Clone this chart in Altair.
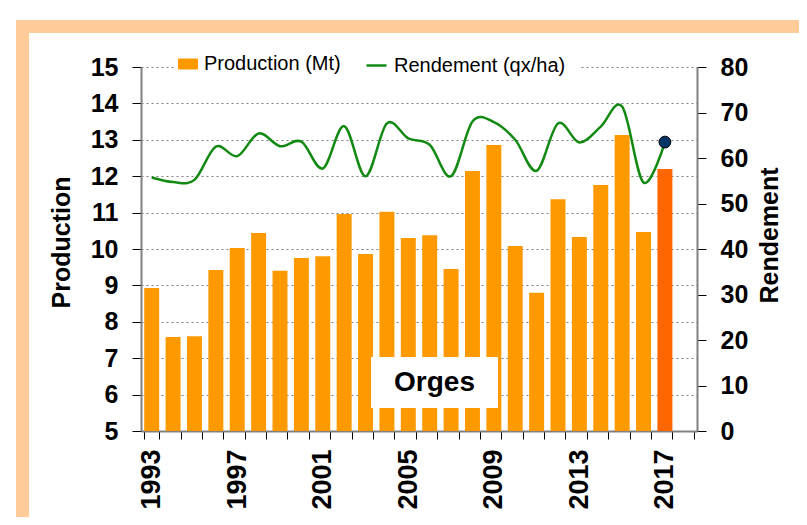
import altair as alt
import pandas as pd

# ---- data ----
annees = list(range(1993, 2018))
production = [8.93, 7.58, 7.60, 9.42, 10.03, 10.44, 9.40, 9.75, 9.80, 10.96,
              9.86, 11.02, 10.30, 10.38, 9.45, 12.14, 12.86, 10.08, 8.80, 11.37,
              10.33, 11.76, 13.13, 10.47, 12.20]
rendement = [55.7, 54.7, 55.2, 62.5, 60.4, 65.4, 62.6, 63.6, 57.7, 67.0,
             56.0, 67.6, 64.3, 62.9, 56.0, 68.0, 67.9, 64.0, 57.2, 67.6,
             63.4, 66.9, 71.3, 54.6, 63.5]
axe_annees = list(range(1993, 2019))
ticks_prod = list(range(5, 16))
ticks_rend = list(range(0, 90, 10))
base_prod = 5
serie_prod = "Production (Mt)"
serie_rend = "Rendement (qx/ha)"

df = pd.DataFrame({
    "Annee": annees,
    "Production": production,
    "Rendement": rendement,
    "SerieP": serie_prod,
    "SerieR": serie_rend,
})
deco = pd.DataFrame({"k": [0]})

FONT = "Liberation Sans"
ORANGE = "#FF9900"
ORANGE_DARK = "#FF6600"
GREEN = "#128A12"
FRAME = "#FFCC99"

x_enc = alt.X(
    "Annee:O",
    scale=alt.Scale(domain=axe_annees, paddingInner=0.3, paddingOuter=0.15),
    axis=alt.Axis(
        title=None, labelAngle=270, tickBand="extent",
        labelExpr="(datum.value - 1993) % 4 == 0 ? datum.label : ''",
        labelFontSize=27, labelFont=FONT, labelFontWeight="bold", labelColor="black",
        labelPadding=10, tickColor="black", tickSize=8, tickWidth=1,
        domainColor="#808080", domainWidth=2, grid=False,
    ),
)

frame_left = alt.Chart(deco).mark_rect(color=FRAME).encode(
    x=alt.value(-125), x2=alt.value(-112), y=alt.value(-47), y2=alt.value(470))
frame_top = alt.Chart(deco).mark_rect(color=FRAME).encode(
    x=alt.value(-125), x2=alt.value(680), y=alt.value(-47), y2=alt.value(-34))
legend_bg = alt.Chart(deco).mark_rect(color="white").encode(
    x=alt.value(33), x2=alt.value(440), y=alt.value(-9), y2=alt.value(6))

bars = alt.Chart(df).mark_bar().encode(
    x=x_enc,
    y=alt.Y(
        "Production:Q",
        scale=alt.Scale(domain=[5, 15], nice=False, zero=False),
        axis=alt.Axis(
            orient="left", values=ticks_prod, title="Production",
            grid=True, gridDash=[2, 3], gridColor="#7F7F7F", gridWidth=1,
            labelFontSize=25, labelFont=FONT, labelFontWeight="bold", labelColor="black",
            labelPadding=14, tickColor="black", tickSize=9, tickWidth=1,
            domainColor="#808080", domainWidth=2,
            titleFontSize=25, titleFont=FONT, titleFontWeight="bold", titleColor="black",
            titlePadding=16, titleY=175,
        ),
    ),
    y2=alt.datum(base_prod),
    fill=alt.condition(
        alt.datum.Annee == 2017,
        alt.value(ORANGE_DARK),
        alt.Fill(
            "SerieP:N",
            scale=alt.Scale(domain=[serie_prod], range=[ORANGE]),
            legend=alt.Legend(
                title=None, orient="none", legendX=34, legendY=-16,
                symbolType="M-1,-0.55L1,-0.55L1,0.55L-1,0.55Z", symbolSize=400,
                symbolStrokeWidth=0, labelFontSize=20, labelFont=FONT,
                labelColor="black", labelOffset=6, padding=3, fillColor="white",
                labelLimit=300,
            ),
        ),
    ),
)

line = alt.Chart(df).mark_line(interpolate="cardinal", strokeWidth=2.5).encode(
    x=x_enc,
    y=alt.Y(
        "Rendement:Q",
        scale=alt.Scale(domain=[0, 80], nice=False),
        axis=alt.Axis(
            orient="right", values=ticks_rend, title="Rendement", grid=False,
            labelFontSize=25, labelFont=FONT, labelFontWeight="bold", labelColor="black",
            labelPadding=14, tickColor="black", tickSize=9, tickWidth=1,
            domainColor="#808080", domainWidth=2,
            titleFontSize=25, titleFont=FONT, titleFontWeight="bold", titleColor="black",
            titleAngle=270, titleBaseline="top", titlePadding=10, titleY=168,
        ),
    ),
    stroke=alt.Stroke(
        "SerieR:N",
        scale=alt.Scale(domain=[serie_rend], range=[GREEN]),
        legend=alt.Legend(
            title=None, orient="none", legendX=221, legendY=-16,
            symbolType="stroke", symbolSize=400, symbolStrokeWidth=2.5,
            labelFontSize=20, labelFont=FONT, labelColor="black",
            labelOffset=6, padding=3, fillColor="white", labelLimit=300,
        ),
    ),
)

point = alt.Chart(df).transform_filter(alt.datum.Annee == 2017).mark_point(
    filled=True, size=140, color="#003366", stroke="black", strokeWidth=1, opacity=1
).encode(
    x=x_enc,
    y=alt.Y("Rendement:Q", scale=alt.Scale(domain=[0, 80], nice=False), axis=None),
)

label_box = alt.Chart(deco).mark_rect(color="white").encode(
    x=alt.value(230), x2=alt.value(357), y=alt.value(290), y2=alt.value(341))
label_txt = alt.Chart(deco).mark_text(
    text="Orges", font=FONT, fontSize=28, fontWeight="bold", color="black",
    align="center", baseline="middle",
).encode(x=alt.value(293.5), y=alt.value(316))

chart = alt.layer(
    frame_left, frame_top, legend_bg, bars, line, point, label_box, label_txt
).resolve_scale(
    y="independent", fill="independent", stroke="independent"
).properties(
    width=556, height=364,
    autosize=alt.AutoSizeParams(type="none"),
    padding={"left": 133, "top": 59, "right": 102, "bottom": 86},
    background="white",
).configure_view(strokeWidth=0)

chart.save("out.html", embed_options={"renderer": "svg", "actions": False})
